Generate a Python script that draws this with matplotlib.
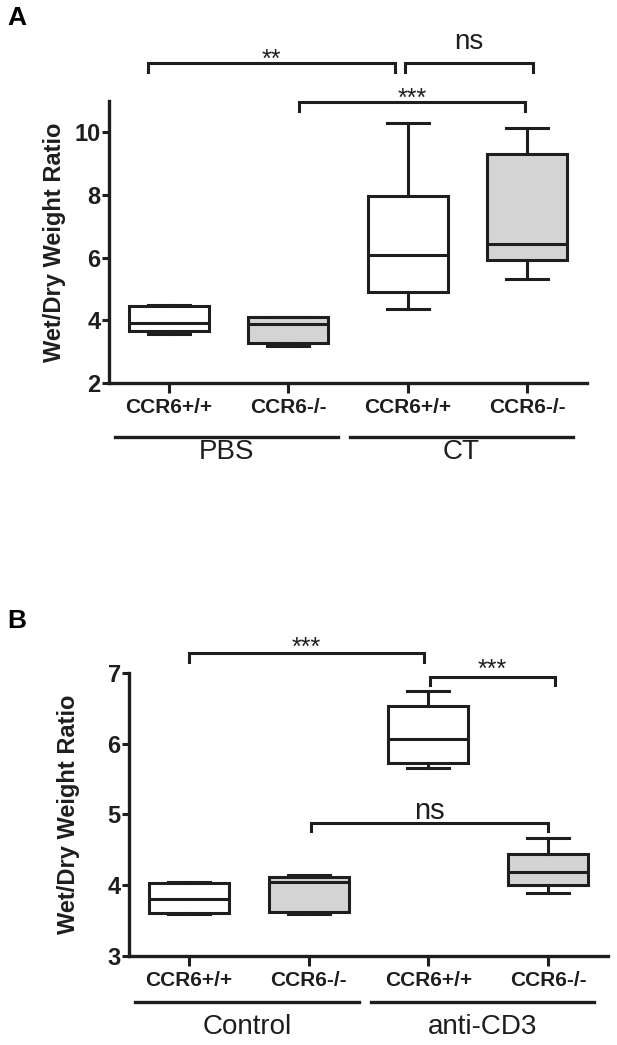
import matplotlib
matplotlib.use("Agg")
import matplotlib.pyplot as plt
import matplotlib.transforms as mtransforms

plt.rcParams['font.family'] = ['Liberation Sans', 'DejaVu Sans']

ink = '#1e1e1e'
gray = '#d4d4d4'

groups = ['CCR6+/+', 'CCR6-/-', 'CCR6+/+', 'CCR6-/-']
fills = ['white', gray, 'white', gray]

# panel A: whisker low, q1, median, q3, whisker high
a_lo = [3.57, 3.18, 4.36, 5.33]
a_q1 = [3.66, 3.29, 4.90, 5.93]
a_med = [3.91, 3.88, 6.07, 6.42]
a_q3 = [4.46, 4.10, 7.96, 9.30]
a_hi = [4.50, 4.12, 10.31, 10.13]
a_treat = ['PBS', 'CT']

# panel B
b_lo = [3.59, 3.60, 5.65, 3.89]
b_q1 = [3.61, 3.62, 5.73, 4.01]
b_med = [3.80, 4.05, 6.06, 4.18]
b_q3 = [4.03, 4.12, 6.53, 4.44]
b_hi = [4.05, 4.14, 6.75, 4.67]
b_treat = ['Control', 'anti-CD3']

# brackets: x1, x2, y, drop, label, label baseline, fontsize
a_brackets = [(-0.17, 1.89, 12.21, 0.29, '**', 12.10, 18),
              (1.98, 3.05, 12.21, 0.29, 'ns', 12.66, 20),
              (1.09, 2.98, 10.96, 0.29, '***', 10.85, 18)]
b_brackets = [(0.0, 1.96, 7.28, 0.12, '***', 7.26, 18),
              (2.01, 3.06, 6.95, 0.12, '***', 6.94, 18),
              (1.02, 3.0, 4.88, 0.12, 'ns', 4.94, 21)]


def draw_panel(ax, lo, q1, med, q3, hi, treat, brackets, ylim, yticks,
               line_y, label_y, ylab_x):
    stats = []
    for i in range(len(groups)):
        stats.append(dict(whislo=lo[i], q1=q1[i], med=med[i], q3=q3[i],
                          whishi=hi[i], fliers=[]))
    lw = 2.2
    art = ax.bxp(stats, positions=range(len(groups)), widths=0.67,
                 patch_artist=True, showfliers=False,
                 boxprops=dict(linewidth=lw, edgecolor=ink),
                 medianprops=dict(linewidth=lw, color=ink),
                 whiskerprops=dict(linewidth=lw, color=ink),
                 capprops=dict(linewidth=lw, color=ink), capwidths=0.35)
    for patch, c in zip(art['boxes'], fills):
        patch.set_facecolor(c)

    ax.set_xlim(-0.5, 3.5)
    ax.set_ylim(*ylim)
    ax.set_yticks(yticks)
    ax.set_xticks(range(len(groups)))
    ax.set_xticklabels(groups, fontsize=15, fontweight='bold', color=ink)
    for t in ax.get_yticklabels():
        t.set_fontsize(17)
        t.set_fontweight('bold')
        t.set_color(ink)
    ax.tick_params(axis='x', length=7, width=2.2, pad=4, colors=ink)
    ax.tick_params(axis='y', length=5, width=2.2, pad=1, colors=ink)
    for s in ['top', 'right']:
        ax.spines[s].set_visible(False)
    for s in ['left', 'bottom']:
        ax.spines[s].set_linewidth(2.4)
        ax.spines[s].set_color(ink)
    ax.set_ylabel('Wet/Dry Weight Ratio', fontsize=17, fontweight='bold',
                  color=ink, va='center')
    ax.yaxis.set_label_coords(ylab_x, 0.5)

    trans = mtransforms.blended_transform_factory(ax.transData, ax.transAxes)
    spans = [(-0.45, 1.42), (1.52, 3.38)]
    for (x1, x2), name in zip(spans, treat):
        ax.plot([x1, x2], [line_y, line_y], color=ink, lw=2.4,
                transform=trans, clip_on=False)
        ax.text((x1 + x2) / 2, label_y, name, transform=trans, ha='center',
                va='center', fontsize=20, color=ink)

    for x1, x2, y, d, lab, ty, fs in brackets:
        ax.plot([x1, x1, x2, x2], [y - d, y, y, y - d], color=ink, lw=2.2,
                clip_on=False, solid_joinstyle='miter')
        ax.text((x1 + x2) / 2, ty, lab, ha='center', va='baseline',
                fontsize=fs, color=ink)


fig = plt.figure(figsize=(6.17, 10.45), dpi=100)
ax_a = fig.add_axes([0.1767, 0.6335, 0.7747, 0.2699])
ax_b = fig.add_axes([0.2091, 0.0852, 0.7763, 0.2708])

draw_panel(ax_a, a_lo, a_q1, a_med, a_q3, a_hi, a_treat, a_brackets,
           (2, 11), [2, 4, 6, 8, 10], -0.191, -0.245, -0.115)
draw_panel(ax_b, b_lo, b_q1, b_med, b_q3, b_hi, b_treat, b_brackets,
           (3, 7), [3, 4, 5, 6, 7], -0.163, -0.251, -0.127)

fig.text(17 / 617, 1 - 18 / 1045, 'A', fontsize=19, fontweight='bold',
         ha='center', va='center')
fig.text(17 / 617, 1 - 621 / 1045, 'B', fontsize=19, fontweight='bold',
         ha='center', va='center')

fig.savefig('out.png', dpi=100)
